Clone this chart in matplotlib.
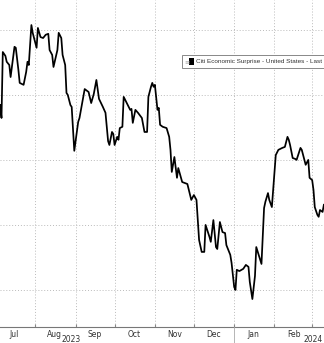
import matplotlib
matplotlib.use("Agg")
import matplotlib.pyplot as plt
import matplotlib.dates as mdates
import numpy as np
import pandas as pd
from matplotlib.lines import Line2D
from matplotlib.patches import Rectangle

# ---- data ----
dates = [
    "2023-07-05", "2023-07-06", "2023-07-07", "2023-07-09", "2023-07-10", "2023-07-12", "2023-07-13",
    "2023-07-16", "2023-07-17", "2023-07-19", "2023-07-20", "2023-07-23", "2023-07-25", "2023-07-26",
    "2023-07-27", "2023-07-29", "2023-07-30", "2023-08-02", "2023-08-03", "2023-08-05", "2023-08-07",
    "2023-08-09", "2023-08-11", "2023-08-12", "2023-08-14", "2023-08-15", "2023-08-18", "2023-08-19",
    "2023-08-21", "2023-08-22", "2023-08-24", "2023-08-25", "2023-08-26", "2023-08-28", "2023-08-29",
    "2023-08-31", "2023-09-03", "2023-09-04", "2023-09-08", "2023-09-11", "2023-09-13", "2023-09-15",
    "2023-09-17", "2023-09-19", "2023-09-22", "2023-09-24", "2023-09-26", "2023-09-27", "2023-09-29",
    "2023-09-30", "2023-10-01", "2023-10-03", "2023-10-04", "2023-10-05", "2023-10-07", "2023-10-08",
    "2023-10-10", "2023-10-13", "2023-10-14", "2023-10-15", "2023-10-17", "2023-10-19", "2023-10-22",
    "2023-10-24", "2023-10-26", "2023-10-27", "2023-10-29", "2023-10-30", "2023-10-31", "2023-11-01",
    "2023-11-03", "2023-11-04", "2023-11-05", "2023-11-07", "2023-11-10", "2023-11-12", "2023-11-13",
    "2023-11-14", "2023-11-16", "2023-11-18", "2023-11-19", "2023-11-22", "2023-11-26", "2023-11-29",
    "2023-12-01", "2023-12-03", "2023-12-05", "2023-12-07", "2023-12-09", "2023-12-10", "2023-12-13",
    "2023-12-14", "2023-12-16", "2023-12-18", "2023-12-19", "2023-12-21", "2023-12-23", "2023-12-25",
    "2023-12-26", "2023-12-29", "2023-12-30", "2024-01-01", "2024-01-02", "2024-01-03", "2024-01-05",
    "2024-01-08", "2024-01-10", "2024-01-12", "2024-01-13", "2024-01-15", "2024-01-17", "2024-01-18",
    "2024-01-22", "2024-01-24", "2024-01-25", "2024-01-27", "2024-01-28", "2024-01-30", "2024-02-01",
    "2024-02-02", "2024-02-04", "2024-02-07", "2024-02-09", "2024-02-11", "2024-02-12", "2024-02-13",
    "2024-02-15", "2024-02-17", "2024-02-18", "2024-02-21", "2024-02-22", "2024-02-24", "2024-02-25",
    "2024-02-27", "2024-02-28", "2024-03-01", "2024-03-02", "2024-03-03", "2024-03-05", "2024-03-06",
    "2024-03-07", "2024-03-09", "2024-03-10",
]
values = [
    56.9, 52.9, 73.2, 72.0, 70.2, 69.2, 65.5,
    74.8, 74.5, 67.7, 63.7, 63.1, 67.1, 70.2,
    69.2, 81.5, 79.1, 74.5, 80.6, 77.8, 77.5,
    78.5, 78.8, 73.8, 72.3, 68.6, 73.8, 79.1,
    77.5, 72.3, 69.2, 60.6, 60.0, 56.9, 56.3,
    42.8, 51.7, 52.9, 61.8, 60.9, 57.5, 60.3,
    64.6, 58.8, 56.3, 54.5, 45.8, 44.6, 48.6,
    48.0, 44.6, 47.1, 46.2, 49.8, 50.2, 59.4,
    57.8, 55.4, 55.7, 51.4, 55.4, 54.5, 52.9,
    48.6, 48.6, 59.4, 62.5, 63.7, 62.5, 63.1,
    55.4, 56.0, 50.8, 50.2, 49.8, 47.1, 43.1,
    36.3, 40.9, 34.5, 37.5, 33.2, 32.6, 27.7,
    29.2, 27.7, 15.4, 11.7, 11.7, 20.0, 16.3,
    14.8, 21.5, 13.2, 12.6, 20.9, 17.8, 17.5,
    13.8, 10.8, 8.3, 0.9, 0.0, 6.2, 5.8,
    6.5, 7.7, 7.1, 2.5, -2.8, 4.3, 13.2,
    8.0, 25.2, 27.1, 29.8, 27.7, 25.5, 36.3,
    41.5, 43.1, 43.7, 44.0, 47.1, 46.2, 44.6,
    40.6, 40.3, 40.0, 43.7, 43.1, 40.0, 38.5,
    40.0, 34.5, 33.8, 30.8, 25.5, 23.1, 22.5,
    24.6, 24.0, 26.2,
]
month_labels = ["Jul", "Aug", "Sep", "Oct", "Nov", "Dec", "Jan", "Feb"]
year_labels = ["2023", "2024"]
grid_values = [0, 20, 40, 60, 80]
legend_label = "Citi Economic Surprise - United States - Last"

# ---- figure ----
W, H = 324, 343
fig = plt.figure(figsize=(W / 100, H / 100), dpi=100)
fig.patch.set_facecolor("white")
ax = fig.add_axes([0, 1 - 327 / H, 1, 327 / H])

x = pd.to_datetime(dates)
ax.plot(x, values, color="black", lw=1.25, solid_joinstyle="round")

base = pd.Timestamp("2023-07-01")
ax.set_xlim(base + pd.Timedelta(days=3.85), base + pd.Timedelta(days=253.1))
ax.set_ylim(-11.4, 89.2)

# grid / ticks
month_starts = pd.date_range("2023-08-01", "2024-03-01", freq="MS")
ax.set_xticks(month_starts)
ax.set_xticklabels([])
mids = [pd.Timestamp(m) + pd.Timedelta(days=15) for m in pd.date_range("2023-07-01", "2024-02-01", freq="MS")]
ax.set_xticks(mids, minor=True)
ax.set_xticklabels(month_labels, minor=True, fontsize=5.5, color="#333333")
ax.tick_params(axis="x", which="minor", length=0, pad=2)
ax.tick_params(axis="x", which="major", length=2, direction="in", color="#888888")
ax.set_yticks(grid_values)
ax.tick_params(axis="y", length=0, labelleft=False)

ax.grid(True, which="major", axis="both", color="#bbbbbb", linestyle=(0, (1, 2)), lw=0.7)

for s in ["top", "left", "right"]:
    ax.spines[s].set_visible(False)
ax.spines["bottom"].set_color("#777777")
ax.spines["bottom"].set_linewidth(0.8)

# year labels and separator
fig.text(71 / W, 1 - 339 / H, year_labels[0], fontsize=5.5, color="#333333", ha="center", va="center")
fig.text(313 / W, 1 - 339 / H, year_labels[1], fontsize=5.5, color="#333333", ha="center", va="center")
jan1 = mdates.date2num(pd.Timestamp("2024-01-01"))
xf = ax.transData.transform((jan1, 0))[0] / fig.bbox.width
fig.add_artist(Line2D([xf, xf], [0, 1 - 327 / H], transform=fig.transFigure, color="#aaaaaa", lw=0.6))

# legend box (runs off the right edge like the reference)
fig.add_artist(Rectangle((182 / W, 1 - 68 / H), 200 / W, 13 / H, transform=fig.transFigure,
                         facecolor="white", edgecolor="#888888", lw=0.7, zorder=5))
fig.text(184.5 / W, 1 - 61.5 / H, "≡", fontsize=4.5, color="#aaaaaa", va="center", ha="left", zorder=6)
fig.add_artist(Rectangle((189 / W, 1 - 64.5 / H), 5 / W, 6 / H, transform=fig.transFigure,
                         facecolor="black", edgecolor="none", zorder=6))
fig.text(195.5 / W, 1 - 61.5 / H, legend_label, fontsize=4.6, color="#333333",
         family=["Liberation Sans", "DejaVu Sans"], va="center", ha="left", zorder=6)

fig.savefig("out.png", dpi=100)
